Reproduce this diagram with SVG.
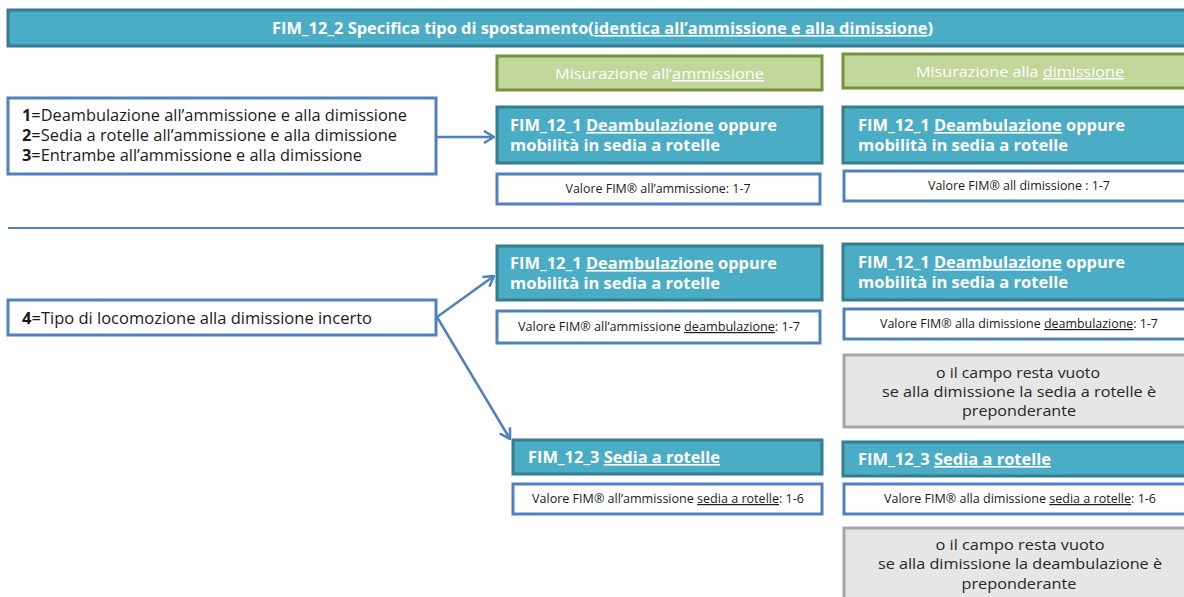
<svg xmlns="http://www.w3.org/2000/svg" width="1184" height="597" viewBox="0 0 1184 597">
<style>
.hdr{fill:#4BACC6;stroke:#357D91;stroke-width:3}
.grn{fill:#C3D69B;stroke:#76923C;stroke-width:3}
.wb{fill:#FFFFFF;stroke:#4F81BD;stroke-width:3}
.gry{fill:#E6E6E6;stroke:#A6A6A6;stroke-width:3}
text{font-family:"Open Sans","Noto Sans","Liberation Sans",sans-serif}
.tw{fill:#FFFFFF;font-weight:bold;font-size:16px}
.tg{fill:#FFFFFF;font-size:15px}
.tl{fill:#1A1A1A;font-size:16px}
.ts{fill:#1A1A1A;font-size:12px}
.tq{fill:#262626;font-size:15px}
.u{text-decoration:underline}
.b{font-weight:bold}
.con{stroke:#4F81BD;stroke-width:2.5;fill:none}
</style>
<defs>
<marker id="ah" markerWidth="12" markerHeight="14" refX="11" refY="7" orient="auto" markerUnits="userSpaceOnUse">
<path d="M1,1 L11,7 L1,13" fill="none" stroke="#4F81BD" stroke-width="2.5"/>
</marker>
</defs>
<rect width="1184" height="597" fill="#FFFFFF"/>
<g id="title">
<rect class="hdr" x="8" y="10" width="1190" height="36"/>
<text class="tw" x="272" y="34" textLength="661" lengthAdjust="spacingAndGlyphs">FIM_12_2 Specifica tipo di spostamento(<tspan class="u">identica all’ammissione e alla dimissione</tspan>)</text>
</g>
<g id="green-ammissione">
<rect class="grn" x="497" y="56" width="325" height="34"/>
<text class="tg" x="555" y="79" textLength="209" lengthAdjust="spacingAndGlyphs">Misurazione all’<tspan class="u">ammissione</tspan></text>
</g>
<g id="green-dimissione">
<rect class="grn" x="843" y="54" width="350" height="34"/>
<text class="tg" x="916" y="77" textLength="208" lengthAdjust="spacingAndGlyphs">Misurazione alla <tspan class="u">dimissione</tspan></text>
</g>
<g id="box-123">
<rect class="wb" x="8" y="98" width="428" height="76"/>
<text class="tl" x="22" y="121" textLength="385" lengthAdjust="spacingAndGlyphs"><tspan class="b">1</tspan>=Deambulazione all’ammissione e alla dimissione</text>
<text class="tl" x="22" y="141" textLength="375" lengthAdjust="spacingAndGlyphs"><tspan class="b">2</tspan>=Sedia a rotelle all’ammissione e alla dimissione</text>
<text class="tl" x="22" y="161" textLength="340" lengthAdjust="spacingAndGlyphs"><tspan class="b">3</tspan>=Entrambe all’ammissione e  alla dimissione</text>
</g>
<g id="fim121-amm-top">
<rect class="hdr" x="497" y="107" width="325" height="56"/>
<text class="tw" x="510" y="131" textLength="267" lengthAdjust="spacingAndGlyphs">FIM_12_1 <tspan class="u">Deambulazione</tspan> oppure</text>
<text class="tw" x="510" y="151" textLength="210" lengthAdjust="spacingAndGlyphs">mobilità in sedia a rotelle</text>
</g>
<g id="fim121-dim-top">
<rect class="hdr" x="843" y="107" width="350" height="56"/>
<text class="tw" x="858" y="131" textLength="267" lengthAdjust="spacingAndGlyphs">FIM_12_1 <tspan class="u">Deambulazione</tspan> oppure</text>
<text class="tw" x="858" y="151" textLength="210" lengthAdjust="spacingAndGlyphs">mobilità in sedia a rotelle</text>
</g>
<g id="val-amm-top">
<rect class="wb" x="497" y="174" width="323" height="30"/>
<text class="ts" x="658" y="193" text-anchor="middle" textLength="185" lengthAdjust="spacingAndGlyphs">Valore FIM® all’ammissione: 1-7</text>
</g>
<g id="val-dim-top">
<rect class="wb" x="844" y="171" width="350" height="30"/>
<text class="ts" x="1019" y="190" text-anchor="middle" textLength="182" lengthAdjust="spacingAndGlyphs">Valore FIM® all dimissione : 1-7</text>
</g>
<g id="divider">
<line x1="8" y1="228" x2="1184" y2="228" stroke="#4F81BD" stroke-width="2"/>
</g>
<g id="box-4">
<rect class="wb" x="8" y="300" width="428" height="35"/>
<text class="tl" x="22" y="324" textLength="350" lengthAdjust="spacingAndGlyphs"><tspan class="b">4</tspan>=Tipo di locomozione alla dimissione incerto</text>
</g>
<g id="fim121-amm-bottom">
<rect class="hdr" x="497" y="246" width="325" height="54"/>
<text class="tw" x="510" y="269" textLength="267" lengthAdjust="spacingAndGlyphs">FIM_12_1 <tspan class="u">Deambulazione</tspan> oppure</text>
<text class="tw" x="510" y="289" textLength="210" lengthAdjust="spacingAndGlyphs">mobilità in sedia a rotelle</text>
</g>
<g id="fim121-dim-bottom">
<rect class="hdr" x="843" y="244" width="350" height="56"/>
<text class="tw" x="858" y="268" textLength="267" lengthAdjust="spacingAndGlyphs">FIM_12_1 <tspan class="u">Deambulazione</tspan> oppure</text>
<text class="tw" x="858" y="288" textLength="210" lengthAdjust="spacingAndGlyphs">mobilità in sedia a rotelle</text>
</g>
<g id="val-amm-deamb">
<rect class="wb" x="497" y="311" width="323" height="32"/>
<text class="ts" x="518" y="331" textLength="282" lengthAdjust="spacingAndGlyphs">Valore FIM® all’ammissione <tspan class="u">deambulazione</tspan>: 1-7</text>
</g>
<g id="val-dim-deamb">
<rect class="wb" x="844" y="309" width="350" height="30"/>
<text class="ts" x="880" y="328" textLength="278" lengthAdjust="spacingAndGlyphs">Valore FIM® alla dimissione <tspan class="u">deambulazione</tspan>: 1-7</text>
</g>
<g id="note-sedia">
<rect class="gry" x="844" y="355" width="350" height="72"/>
<text class="tq" x="1018" y="378" text-anchor="middle" textLength="164" lengthAdjust="spacingAndGlyphs">o il campo resta vuoto</text>
<text class="tq" x="1019" y="397" text-anchor="middle" textLength="274" lengthAdjust="spacingAndGlyphs">se alla dimissione la sedia a rotelle è</text>
<text class="tq" x="1019" y="416" text-anchor="middle" textLength="114" lengthAdjust="spacingAndGlyphs">preponderante</text>
</g>
<g id="fim123-amm">
<rect class="hdr" x="513" y="440" width="309" height="34"/>
<text class="tw" x="528" y="463" textLength="192" lengthAdjust="spacingAndGlyphs">FIM_12_3 <tspan class="u">Sedia a rotelle</tspan></text>
</g>
<g id="fim123-dim">
<rect class="hdr" x="843" y="442" width="350" height="34"/>
<text class="tw" x="858" y="465" textLength="193" lengthAdjust="spacingAndGlyphs">FIM_12_3 <tspan class="u">Sedia a rotelle</tspan></text>
</g>
<g id="val-amm-sedia">
<rect class="wb" x="513" y="484" width="309" height="30"/>
<text class="ts" x="532" y="503" textLength="272" lengthAdjust="spacingAndGlyphs">Valore FIM® all’ammissione <tspan class="u">sedia a rotelle</tspan>: 1-6</text>
</g>
<g id="val-dim-sedia">
<rect class="wb" x="844" y="484" width="350" height="30"/>
<text class="ts" x="884" y="503" textLength="272" lengthAdjust="spacingAndGlyphs">Valore FIM® alla dimissione <tspan class="u">sedia a rotelle</tspan>: 1-6</text>
</g>
<g id="note-deamb">
<rect class="gry" x="844" y="528" width="350" height="80"/>
<text class="tq" x="1020" y="550" text-anchor="middle" textLength="169" lengthAdjust="spacingAndGlyphs">o il campo resta vuoto</text>
<text class="tq" x="1020" y="569" text-anchor="middle" textLength="284" lengthAdjust="spacingAndGlyphs">se alla dimissione la deambulazione è</text>
<text class="tq" x="1019" y="589" text-anchor="middle" textLength="115" lengthAdjust="spacingAndGlyphs">preponderante</text>
</g>
<g id="connectors">
<line class="con" x1="437" y1="137" x2="494" y2="137" marker-end="url(#ah)"/>
<line class="con" x1="437" y1="317" x2="494" y2="276" marker-end="url(#ah)"/>
<line class="con" x1="437" y1="317" x2="510" y2="439" marker-end="url(#ah)"/>
</g>
</svg>
